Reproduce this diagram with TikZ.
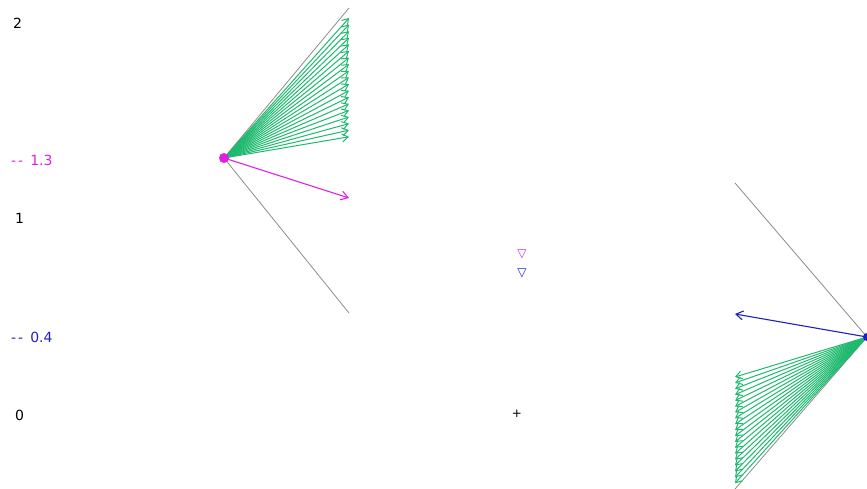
\documentclass[tikz,border=0pt]{standalone}
\usepackage{fontspec}
\setmainfont{DejaVu Sans}
\usetikzlibrary{arrows.meta}
\definecolor{grn}{RGB}{30,185,110}
\definecolor{mag}{RGB}{224,32,224}
\definecolor{blu}{RGB}{32,32,192}
\definecolor{gry}{RGB}{140,140,140}
\newcommand{\dd}{{-}\hspace{2pt}{-}\hspace{7pt}}
\tikzset{
  lbl/.style={font=\fontsize{14}{16}\selectfont, inner sep=0pt, anchor=west},
  ray/.style={draw=gry, line width=0.8pt},
  garrow/.style={draw=grn, line width=1pt, -{Straight Barb[length=6pt,width=8pt]}},
  marrow/.style={draw=mag, line width=1.1pt, -{Straight Barb[length=7pt,width=9pt]}},
  barrow/.style={draw=blu, line width=1.1pt, -{Straight Barb[length=7pt,width=9pt]}},
  tri/.style={font=\fontsize{12}{13}\selectfont\bfseries, inner sep=0pt},
}
\begin{document}
\begin{tikzpicture}[x=1pt,y=-1pt]
\useasboundingbox (0,0) rectangle (867,489);
% axis labels
\node[lbl] (l2) at (13,23) {2};
\node[lbl, text=mag] (l13) at (11,160) {\dd 1.3};
\node[lbl] (l1) at (15,218) {1};
\node[lbl, text=blu] (l04) at (11,337) {\dd 0.4};
\node[lbl] (l0) at (15,415) {0};
% markers
\node[tri, text=mag] (tm) at (522,254) {▽};
\node[tri, text=blu] (tb) at (522,273) {▽};
\node[font=\fontsize{12}{14}\selectfont, inner sep=0pt] (pl) at (517,414) {+};
% left source
\coordinate (A) at (224,158);
\coordinate (Atop) at (349,8);
\coordinate (Abot) at (349,313);
\draw[ray] (A) -- (Atop);
\draw[ray] (A) -- (Abot);
\foreach \i in {0,...,18} {
  \coordinate (ga\i) at (349,{18+6.6*\i});
  \draw[garrow] (A) -- (ga\i);
}
\coordinate (am) at (349,198);
\draw[marrow] (A) -- (am);
\node[circle, fill=mag, minimum size=10pt, inner sep=0pt] (Adot) at (A) {};
% right source
\coordinate (B) at (867,337);
\coordinate (Btop) at (735,183);
\coordinate (Bbot) at (735,489);
\draw[ray] (B) -- (Btop);
\draw[ray] (B) -- (Bbot);
\foreach \i in {0,...,18} {
  \coordinate (gb\i) at (735,{377+5.9*\i});
  \draw[garrow] (B) -- (gb\i);
}
\coordinate (bm) at (735,314);
\draw[barrow] (B) -- (bm);
\node[circle, fill=blu, minimum size=8pt, inner sep=0pt] (Bdot) at (B) {};
\end{tikzpicture}
\end{document}
